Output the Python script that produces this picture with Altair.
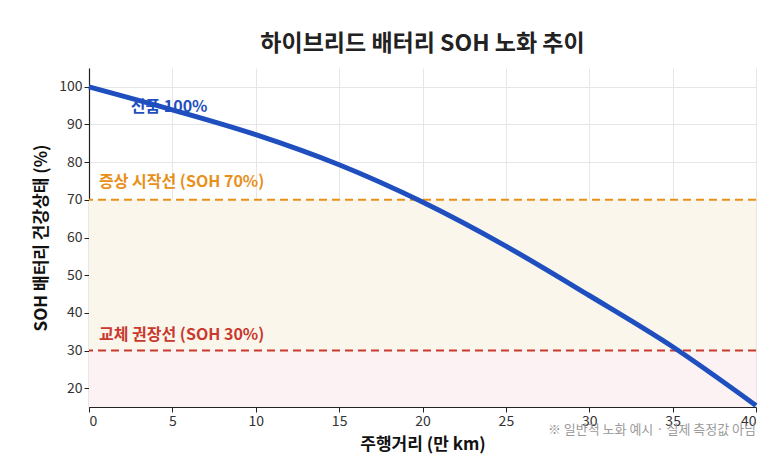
"""Hybrid battery SOH degradation chart"""

import altair as alt
import pandas as pd

FONT = "Noto Sans CJK KR"

# curve (mileage in 10,000 km, SOH in %)
mileage = [0, 5, 10, 15, 20, 25, 30, 35, 40]
soh = [100, 93.9, 87.3, 79.3, 69.4, 57.7, 44.6, 31.0, 15.4]

# threshold lines and shaded bands
thresholds = [70, 30]
threshold_names = ["증상 시작선 (SOH 70%)", "교체 권장선 (SOH 30%)"]
threshold_colors = ["#e8901a", "#c9392e"]
band_low = [30, 15]
band_high = [70, 30]
band_colors = ["#faf6ec", "#fcf2f3"]

# annotation positions (data coords)
label_x = [0.6, 0.6]
label_y = [74.8, 34.0]
new_label = "신품 100%"
new_label_x = 2.5
new_label_y = 94.7

title = "하이브리드 배터리 SOH 노화 추이"
x_title = "주행거리 (만 km)"
y_title = "SOH 배터리 건강상태 (%)"
note = "※ 일반적 노화 예시 · 실제 측정값 아님"

x_ticks = [0, 5, 10, 15, 20, 25, 30, 35, 40]
y_ticks = [20, 30, 40, 50, 60, 70, 80, 90, 100]


def main():
    curve = pd.DataFrame({"mileage": mileage, "soh": soh})
    bands = pd.DataFrame(
        {"lo": band_low, "hi": band_high, "color": band_colors}
    )
    lines = pd.DataFrame(
        {
            "value": thresholds,
            "name": threshold_names,
            "color": threshold_colors,
            "lx": label_x,
            "ly": label_y,
        }
    )

    x_enc = alt.X(
        "mileage:Q",
        title=x_title,
        scale=alt.Scale(domain=[0, 40], nice=False),
        axis=alt.Axis(values=x_ticks, titlePadding=8),
    )
    y_scale = alt.Scale(domain=[15, 105], nice=False)

    base = alt.Chart(curve)

    band_layer = (
        alt.Chart(bands)
        .mark_rect()
        .encode(
            x=alt.value(0),
            x2=alt.value(667),
            y=alt.Y("lo:Q", scale=y_scale),
            y2="hi:Q",
            color=alt.Color("color:N", scale=None),
        )
    )

    rule_layer = (
        alt.Chart(lines)
        .mark_rule(strokeDash=[8, 5], strokeWidth=2)
        .encode(
            y=alt.Y("value:Q", scale=y_scale),
            color=alt.Color("color:N", scale=None),
        )
    )

    rule_text = (
        alt.Chart(lines)
        .mark_text(
            align="left", baseline="middle", font=FONT,
            fontSize=16, fontWeight="bold",
        )
        .encode(
            x=alt.X("lx:Q", scale=alt.Scale(domain=[0, 40], nice=False)),
            y=alt.Y("ly:Q", scale=y_scale),
            text="name:N",
            color=alt.Color("color:N", scale=None),
        )
    )

    line_layer = base.mark_line(
        color="#1f4fbf", strokeWidth=5, interpolate="monotone"
    ).encode(
        x=x_enc,
        y=alt.Y(
            "soh:Q",
            title=y_title,
            scale=y_scale,
            axis=alt.Axis(values=y_ticks, titlePadding=8),
        ),
    )

    new_text = (
        alt.Chart(pd.DataFrame({"x": [new_label_x], "y": [new_label_y], "t": [new_label]}))
        .mark_text(
            align="left", baseline="middle", font=FONT,
            fontSize=16, fontWeight="bold", color="#1f4fbf",
        )
        .encode(x="x:Q", y=alt.Y("y:Q", scale=y_scale), text="t:N")
    )

    note_text = (
        alt.Chart(pd.DataFrame({"t": [note]}))
        .mark_text(
            align="right", baseline="middle", font=FONT,
            fontSize=13, color="#9a9a9a",
        )
        .encode(x=alt.value(667), y=alt.value(362), text="t:N")
    )

    chart = (
        alt.layer(band_layer, rule_layer, line_layer, rule_text, new_text, note_text)
        .properties(
            title=alt.TitleParams(
                title, font=FONT, fontSize=23, fontWeight="bold",
                color="#222222", offset=12,
            ),
            width=667,
            height=339,
            autosize=alt.AutoSizeParams(type="none"),
            padding={"left": 81, "top": 60, "right": 9, "bottom": 58},
        )
        .configure_view(stroke=None)
        .configure_axis(
            labelFont=FONT,
            titleFont=FONT,
            labelFontSize=14,
            labelColor="#333333",
            titleFontSize=17,
            titleFontWeight="bold",
            titleColor="#111111",
            domainColor="#222222",
            domainWidth=1.2,
            tickColor="#222222",
            tickSize=5,
            gridColor="#e6e6e6",
            gridWidth=1,
        )
    )

    chart.save("out.html", embed_options={"renderer": "svg", "actions": False})


if __name__ == "__main__":
    main()
